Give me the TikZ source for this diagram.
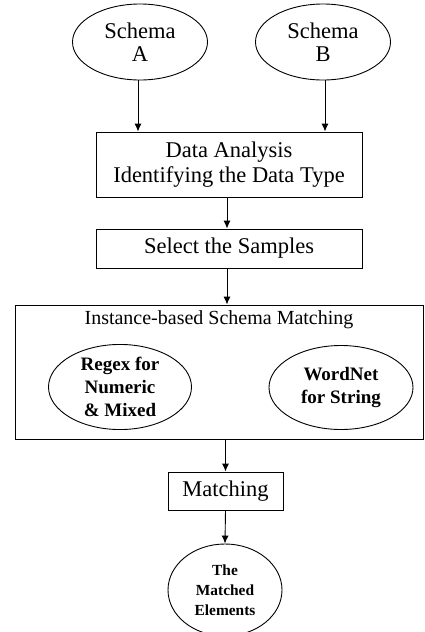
\documentclass[tikz,border=0pt]{standalone}
\usepackage{fontspec}
\setmainfont{Liberation Serif}
\usetikzlibrary{arrows.meta,shapes.geometric}

\begin{document}
\begin{tikzpicture}[>={Latex[length=8pt,width=7pt]},x=1pt,y=-1pt,line width=0.9pt]
  \tikzstyle{src}=[draw,ellipse,align=center,inner sep=0pt,minimum width=135,minimum height=76,font=\fontsize{22.5}{23.5}\selectfont]
  \tikzstyle{stage}=[draw,rectangle,align=center,inner sep=0pt,font=\fontsize{22.5}{25}\selectfont]
  \tikzstyle{method}=[draw,ellipse,align=center,inner sep=0pt,minimum width=143,minimum height=84,font=\bfseries\fontsize{19}{23.3}\selectfont]
  \useasboundingbox (0,0) rectangle (425,632);
  % inputs
  \node[src] (schemaA) at (140,42) {Schema\\A};
  \node[src] (schemaB) at (323,42) {Schema\\B};
  % pre-processing
  \node[stage,minimum width=266,minimum height=65] (analysis) at (229,164.5) {Data Analysis\\Identifying the Data Type};
  \node[stage,minimum width=266,minimum height=39] (select) at (229,248.5) {Select the Samples};
  % matching block with its two methods
  \node[stage,minimum width=408,minimum height=134] (instance) at (219,372) {};
  \node[font=\fontsize{20}{22}\selectfont] (title) at (219,320) {Instance-based Schema Matching};
  \node[method] (regex) at (120,387) {Regex for\\Numeric\\\& Mixed};
  \node[method,minimum width=144] (wordnet) at (341,387.5) {WordNet\\for String};
  % result
  \node[stage,minimum width=115,minimum height=38] (matching) at (225.5,491) {Matching};
  \node[draw,ellipse,align=center,inner sep=0pt,minimum width=114,minimum height=92,font=\bfseries\fontsize{15.4}{20}\selectfont] (matched) at (225,590) {The\\Matched\\Elements};
  \draw[->] ([xshift=-2]schemaA.south) -- ([xshift=-2]schemaA.south |- analysis.north);
  \draw[->] ([xshift=2]schemaB.south) -- ([xshift=2]schemaB.south |- analysis.north);
  \draw[->] ([xshift=-2]analysis.south) -- ([xshift=-2]analysis.south |- select.north);
  \draw[->] ([xshift=-2]select.south) -- ([xshift=-2]select.south |- instance.north);
  \draw[->] (matching.north |- instance.south) -- (matching.north);
  \draw[->] (matching.south) -- (matched.north);
\end{tikzpicture}
\end{document}
